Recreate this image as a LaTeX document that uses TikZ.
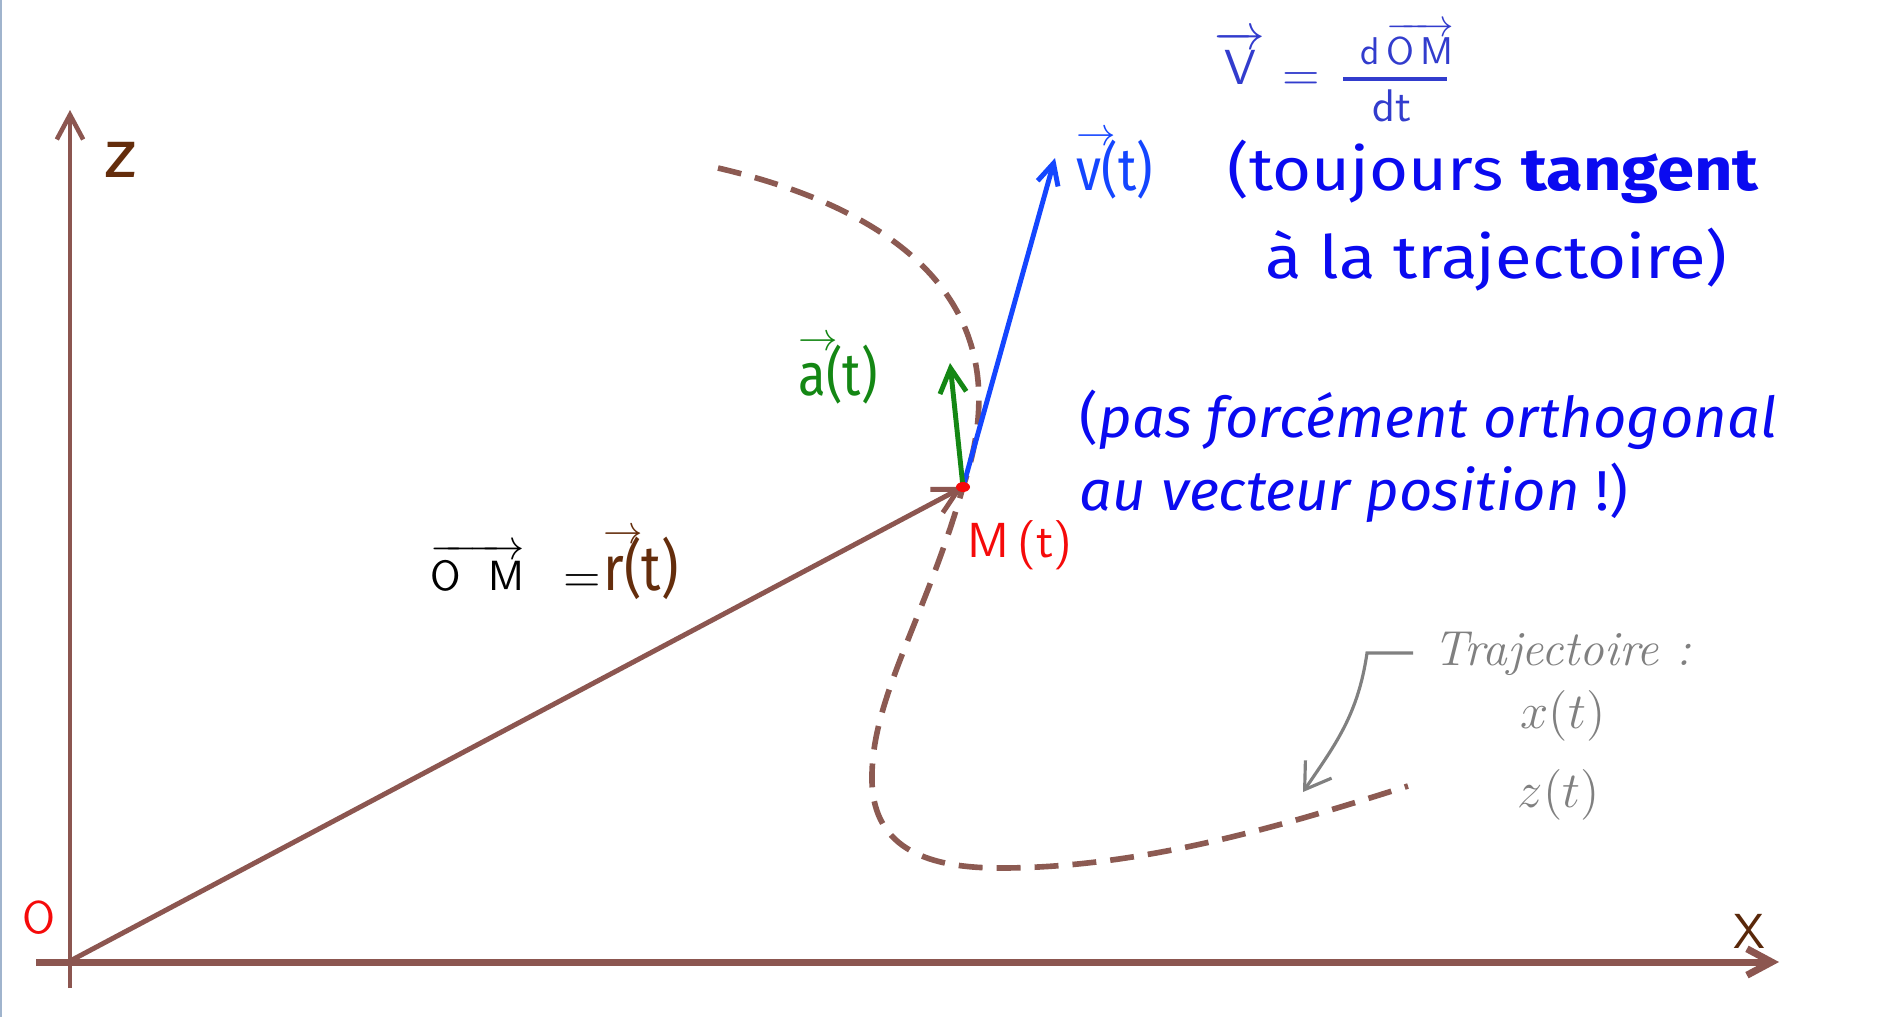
\documentclass[tikz,border=0pt]{standalone}
\usepackage{fontspec}
\usepackage{amsmath}
\usetikzlibrary{arrows.meta}
\newfontfamily\sq[FakeStretch=1.12]{Fira Sans}
\newfontfamily\sqn[FakeStretch=0.85]{Fira Sans}
\newfontfamily\sqi[FakeStretch=1.03]{Fira Sans}
\definecolor{axb}{RGB}{140,86,80}
\definecolor{trb}{RGB}{140,90,82}
\definecolor{txb}{RGB}{100,45,12}
\definecolor{dkb}{RGB}{90,40,10}
\definecolor{vblue}{RGB}{20,70,255}
\definecolor{tblue}{RGB}{10,10,240}
\definecolor{fblue}{RGB}{50,60,205}
\definecolor{agreen}{RGB}{20,135,20}
\definecolor{mred}{RGB}{245,10,10}
\definecolor{ngray}{RGB}{128,128,128}
\definecolor{edge}{RGB}{160,180,205}
\newcommand\vecl[1]{\makebox[0pt][l]{\raisebox{0.74em}{\scalebox{0.65}{$\rightarrow$}}}#1}
\tikzset{
  barb/.style={-{Straight Barb[length=7pt,width=7.5pt,line width=#1]}},
  axisline/.style={draw=axb},
  traj/.style={draw=trb, line width=1.6pt, dash pattern=on 6.8pt off 4pt},
  lab/.style={inner sep=0pt, anchor=base west},
}
\begin{document}
\begin{tikzpicture}[x=0.01cm,y=-0.01cm]
\useasboundingbox (0,0) rectangle (1887,1017);
\fill[white] (0,0) rectangle (1887,1017);
\draw[edge, line width=0.6pt] (1,0) -- (1,1017);

% coordinates
\coordinate (O) at (70,961);
\coordinate (Zb) at (70,988);
\coordinate (Zt) at (70,110);
\coordinate (Xb) at (36,962);
\coordinate (Xt) at (1779,962);
\coordinate (M) at (963,487);
\coordinate (V) at (1055,158);
\coordinate (A) at (950,363);
\coordinate (T0) at (718,168);
\coordinate (T1) at (872,782);
\coordinate (T2) at (1000,868);
\coordinate (T3) at (1408,786);
\coordinate (G0) at (1413,653);
\coordinate (G1) at (1367,653);
\coordinate (G2) at (1303,792);
\coordinate (F0) at (1343,79);
\coordinate (F1) at (1447,79);

% axes
\draw[axisline, line width=1.3pt, barb=1.3pt] (Zb) -- (Zt);
\draw[axisline, line width=2pt, barb=2pt] (Xb) -- (Xt);

% trajectory
\draw[traj] (T0) .. controls (920,215) and (1020,320) .. (M)
  .. controls (925,620) and (870,700) .. (T1)
  .. controls (874,850) and (930,868) .. (T2)
  .. controls (1150,868) and (1300,820) .. (T3);

% vectors
\draw[axisline, line width=1.4pt, barb=1.4pt] (O) -- (M);
\draw[vblue, line width=1.4pt, -{Straight Barb[length=6pt,width=6pt,line width=1.4pt]}] (M) -- (V);
\draw[agreen, line width=1.4pt, barb=1.4pt] (M) -- (A);
\fill[mred] (M) ellipse [x radius=7, y radius=5];

% note arrow
\draw[ngray, line width=0.9pt, -{Straight Barb[length=7pt,width=9pt,line width=0.9pt]}] (G0) -- (G1) .. controls (1358,715) and (1335,745) .. (G2);

% labels
\node[lab, text=txb, font=\sq\fontsize{19pt}{22pt}\selectfont] (zl) at (104,177) {z};
\node[lab, text=dkb, font=\sffamily\fontsize{14pt}{16pt}\selectfont] (xl) at (1733,948) {X};
\node[lab, text=mred, font=\sffamily\fontsize{13pt}{15pt}\selectfont] (ol) at (22,933) {O};
\node[lab, text=mred, font=\sffamily\fontsize{14pt}{16pt}\selectfont] (ml) at (967,557) {M\,(t)};

\node[lab, text=vblue, font=\sqn\fontsize{17pt}{20pt}\selectfont] (vl) at (1076,190) {\vecl{v}(t)};
\node[lab, text=tblue, font=\sq\fontsize{17pt}{20pt}\selectfont] (t1) at (1227,190) {(toujours \textbf{tangent}};
\node[lab, text=tblue, font=\sq\fontsize{17pt}{20pt}\selectfont] (t2) at (1265,278) {à la trajectoire)};
\node[lab, text=tblue, font=\sqi\fontsize{16pt}{19pt}\selectfont] (p1) at (1079,437) {(\textit{pas forcément orthogonal}};
\node[lab, text=tblue, font=\sqi\fontsize{16pt}{19pt}\selectfont] (p2) at (1079,510) {\textit{au vecteur position} !)};

\node[lab, text=agreen, font=\sqn\fontsize{17pt}{20pt}\selectfont] (al) at (798,395) {\vecl{a}(t)};
\node[lab, text=black, font=\sffamily\fontsize{12pt}{14pt}\selectfont] (om) at (430,590) {$\overrightarrow{\mbox{\sffamily O\ \ M}}$};
\node[lab, text=black, font=\sffamily\fontsize{14pt}{16pt}\selectfont] (eq) at (563,592) {=};
\node[lab, text=txb, font=\sqn\fontsize{18pt}{21pt}\selectfont] (rl) at (603,590) {\vecl{r}(t)};

% formula v = dOM/dt
\node[lab, text=fblue, font=\sffamily\fontsize{14pt}{16pt}\selectfont] (fv) at (1214,84) {$\overrightarrow{\mbox{\sffamily V}}$};
\node[lab, text=fblue, font=\sffamily\fontsize{14pt}{16pt}\selectfont] (fe) at (1282,90) {=};
\node[lab, text=fblue, font=\sffamily\fontsize{11pt}{13pt}\selectfont] (fn) at (1360,64) {d\,$\overrightarrow{\mbox{\sffamily O\,M}}$};
\draw[fblue, line width=1.1pt] (F0) -- (F1);
\node[lab, text=fblue, font=\sffamily\fontsize{13pt}{15pt}\selectfont] (fd) at (1372,121) {dt};

\node[lab, text=ngray, font=\itshape\fontsize{14pt}{16pt}\selectfont] (tr) at (1433,665) {Trajectoire :};
\node[lab, text=ngray, font=\fontsize{14pt}{16pt}\selectfont] (xt) at (1520,728) {$x(t)$};
\node[lab, text=ngray, font=\fontsize{14pt}{16pt}\selectfont] (zt) at (1517,807) {$z(t)$};
\end{tikzpicture}
\end{document}
